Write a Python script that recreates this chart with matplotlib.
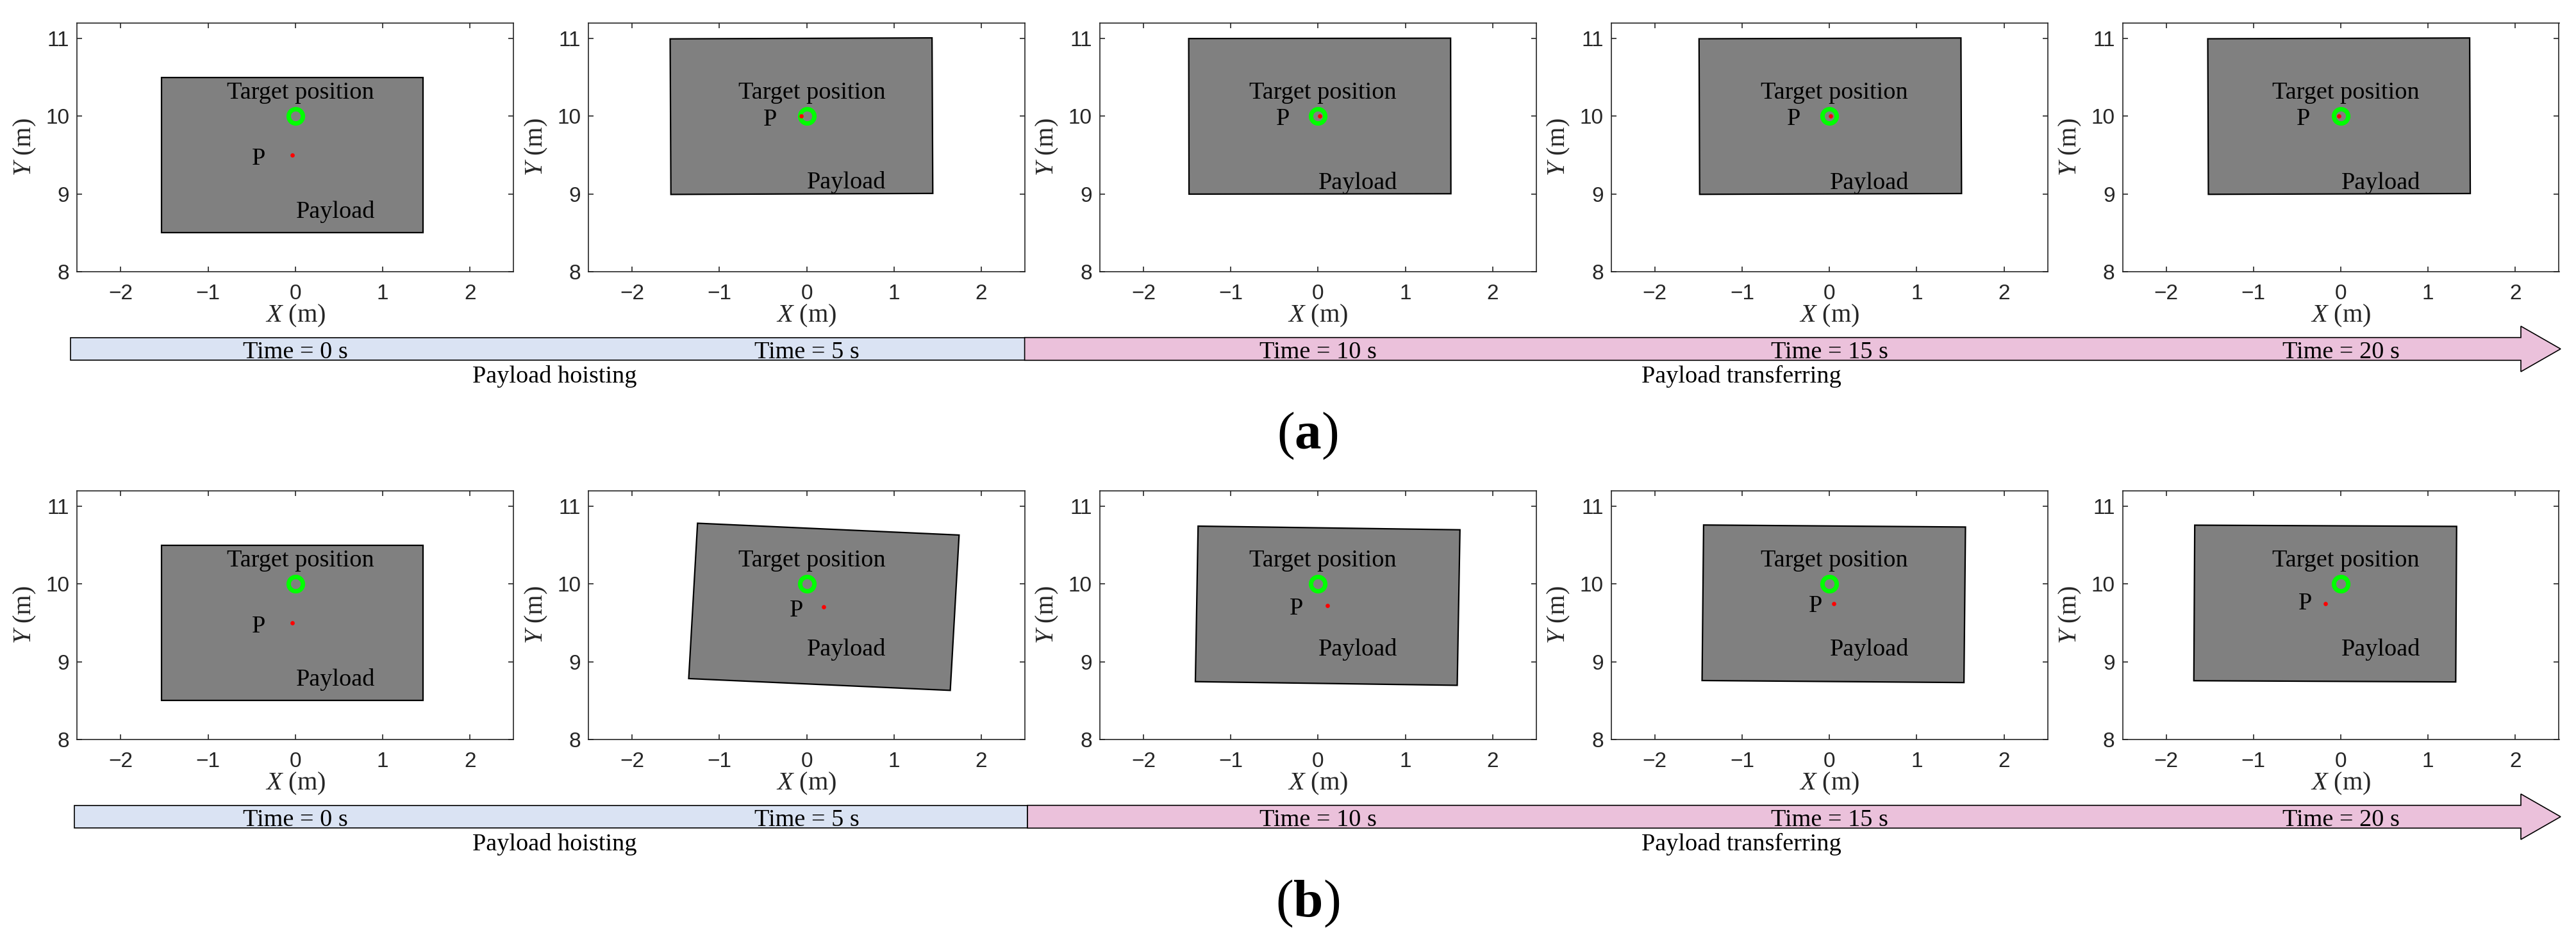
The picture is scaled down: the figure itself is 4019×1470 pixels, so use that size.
import matplotlib
matplotlib.use("Agg")
import matplotlib.pyplot as plt
import numpy as np
from matplotlib.patches import Polygon

plt.rcParams["font.family"] = ["Liberation Sans", "DejaVu Sans"]
plt.rcParams["mathtext.fontset"] = "custom"
plt.rcParams["mathtext.rm"] = "Liberation Serif"
plt.rcParams["mathtext.it"] = "Liberation Serif:italic"
plt.rcParams["mathtext.bf"] = "Liberation Serif:bold"

# ---------------- data ----------------
times = [0, 5, 10, 15, 20]
target_x, target_y = 0.0, 10.0
payload_w, payload_h = 3.0, 2.0
x_ticks = [-2, -1, 0, 1, 2]
y_ticks = [8, 9, 10, 11]

# row (a)
a_px = [-0.035, -0.06, 0.02, 0.01, -0.02]          # payload centre P, x (m)
a_py = [9.50, 10.00, 10.00, 10.00, 10.00]          # payload centre P, y (m)
a_ang = [0.0, 0.25, 0.1, 0.2, 0.2]                 # payload rotation (deg)
a_plab_x = [-0.50, -0.495, -0.48, -0.485, -0.51]
a_plab_y = [9.375, 9.88, 9.885, 9.885, 9.885]
a_load_y = [8.69, 9.075, 9.06, 9.06, 9.06]

# row (b)
b_px = [-0.035, 0.197, 0.11, 0.05, -0.178]
b_py = [9.50, 9.706, 9.72, 9.745, 9.748]
b_ang = [0.0, -2.9, -0.9, -0.5, -0.3]
b_plab_x = [-0.50, -0.196, -0.33, -0.24, -0.485]
b_plab_y = [9.375, 9.58, 9.61, 9.64, 9.67]
b_load_y = [8.69, 9.082, 9.08, 9.08, 9.082]

phase_labels = ["Payload hoisting", "Payload transferring"]
row_tags = ["a", "b"]

# ---------------- figure ----------------
W, H, DPI = 4019, 1470, 100
fig = plt.figure(figsize=(W / DPI, H / DPI), dpi=DPI)

SERIF = ["Liberation Serif", "DejaVu Serif"]
AX_COL = "#262626"

# overlay in pixel coordinates for the timeline decorations
ov = fig.add_axes([0, 0, 1, 1])
ov.set_xlim(0, W)
ov.set_ylim(H, 0)
ov.axis("off")

ax_left = [120.3 + i * 797.8 for i in range(5)]
ax_w, ax_h = 681.0, 388.4
row_top = [35.6, 765.6]

rows = [
    (a_px, a_py, a_ang, a_plab_x, a_plab_y, a_load_y),
    (b_px, b_py, b_ang, b_plab_x, b_plab_y, b_load_y),
]

for r, (px, py, ang, plx, ply, ly) in enumerate(rows):
    top = row_top[r]
    for i in range(5):
        ax = fig.add_axes([ax_left[i] / W, 1 - (top + ax_h) / H, ax_w / W, ax_h / H])
        ax.set_xlim(-2.5, 2.5)
        ax.set_ylim(8, 11.2)
        # payload rectangle
        th = np.deg2rad(ang[i])
        c, s = np.cos(th), np.sin(th)
        corners = np.array([[-payload_w / 2, -payload_h / 2], [payload_w / 2, -payload_h / 2],
                            [payload_w / 2, payload_h / 2], [-payload_w / 2, payload_h / 2]])
        rot = corners @ np.array([[c, s], [-s, c]]) + np.array([px[i], py[i]])
        ax.add_patch(Polygon(rot, closed=True, facecolor="#808080", edgecolor="black",
                             linewidth=1.6, zorder=2))
        ax.plot([target_x], [target_y], "o", markersize=16, markerfacecolor="none",
                markeredgecolor="#00FF00", markeredgewidth=5, zorder=4)
        ax.plot([px[i]], [py[i]], "o", markersize=4.8, color="red", markeredgewidth=0, zorder=5)
        ax.text(-0.785, 10.226, "Target position", family=SERIF, fontsize=27.5,
                va="baseline", ha="left", zorder=6)
        ax.text(plx[i], ply[i], "P", family=SERIF, fontsize=27.5, va="baseline", ha="left", zorder=6)
        ax.text(0.005, ly[i], "Payload", family=SERIF, fontsize=27.5, va="baseline", ha="left", zorder=6)

        ax.set_xticks(x_ticks)
        ax.set_yticks(y_ticks)
        ax.tick_params(direction="in", top=True, right=True, length=5.8, width=1.2,
                       labelsize=24, colors=AX_COL)
        ax.tick_params(axis="x", pad=13.5)
        ax.tick_params(axis="y", pad=8.6)
        for sp in ax.spines.values():
            sp.set_color(AX_COL)
            sp.set_linewidth(1.2)
        ax.set_xlabel("$X$ (m)", family=SERIF, fontsize=29, labelpad=-1, color="#262626")
        ax.set_ylabel("$Y$ (m)", family=SERIF, fontsize=29, labelpad=9, color="#262626")

        # time label under each panel
        ov.text(ax_left[i] + ax_w / 2, 559 + 730 * r, f"Time = {times[i]} s", family=SERIF,
                fontsize=27.5, ha="center", va="baseline", zorder=6)

    # timeline bar
    dy = 730 * r
    left = 110 + 5.6 * r
    split = 1598.6 + 4.4 * r
    y0, y1 = 526.7 + dy, 562.3 + dy
    head_x, tip_x = 3933.0, 3995.0
    ym = (y0 + y1) / 2
    hh = 35.5
    ov.add_patch(Polygon([[left, y0], [split, y0], [split, y1], [left, y1]], closed=True,
                         facecolor="#DAE3F3", edgecolor="black", linewidth=1.2, zorder=2))
    ov.add_patch(Polygon([[split, y0], [head_x, y0], [head_x, ym - hh], [tip_x, ym],
                          [head_x, ym + hh], [head_x, y1], [split, y1]], closed=True,
                         facecolor="#EBC1DB", edgecolor="black", linewidth=1.2, zorder=2))
    ov.text(865, 597 + dy, phase_labels[0], family=SERIF, fontsize=27.5, ha="center", va="baseline")
    ov.text(2717, 597 + dy, phase_labels[1], family=SERIF, fontsize=27.5, ha="center", va="baseline")
    ov.text(2040, 680 + dy, r"($\mathbf{" + row_tags[r] + r"}$)", family=SERIF, fontsize=60,
            ha="center", va="center")

fig.savefig("out.png", dpi=DPI)
